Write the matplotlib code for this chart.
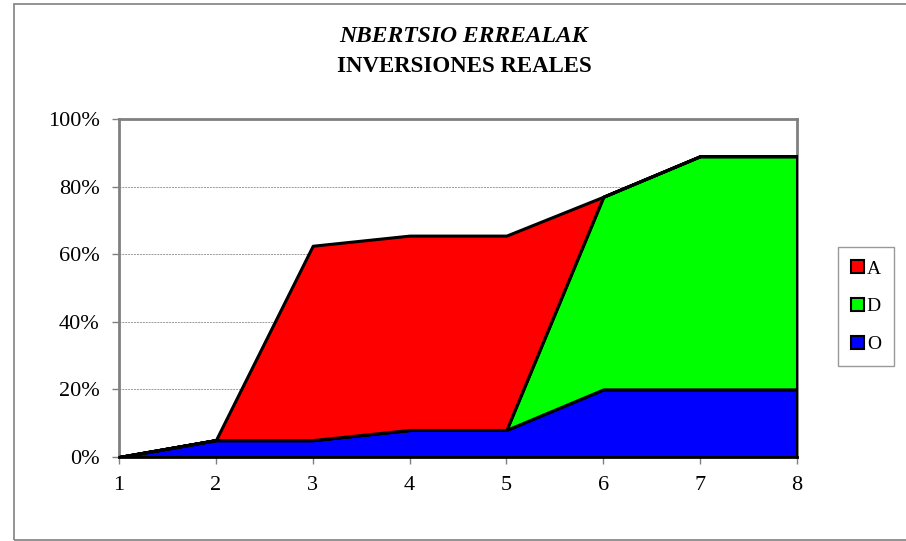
import matplotlib
matplotlib.use("Agg")
import matplotlib.pyplot as plt
from matplotlib.patches import Rectangle, Patch
import numpy as np

x = [1, 2, 3, 4, 5, 6, 7, 8]
O = [0, 5, 5, 8, 8, 20, 20, 20]
D = [0, 0, 0, 0, 0, 57, 69, 69]
A = [0, 0, 57.5, 57.5, 57.5, 0, 0, 0]
series_names = ["O", "D", "A"]
colors = {"O": "#0000FF", "D": "#00FF00", "A": "#FF0000"}
yticks = [0, 20, 40, 60, 80, 100]
title1 = "NBERTSIO ERREALAK"
title2 = "INVERSIONES REALES"

plt.rcParams['font.family'] = ['Liberation Serif', 'DejaVu Serif']

fig = plt.figure(figsize=(9.06, 5.41), dpi=100)
W, H = 906, 541
# outer chart frame
fig.add_artist(Rectangle((13.5 / W, 1 - 539.5 / H), (W + 10) / W, (536 / H),
                         transform=fig.transFigure, fill=False,
                         edgecolor="#808080", linewidth=1.2))

ax = fig.add_axes([119 / W, 1 - 457 / H, (797 - 119) / W, (457 - 119) / H])
ax.stackplot(x, O, D, A, colors=[colors[s] for s in series_names],
             edgecolor="black", linewidth=2.2, zorder=3)

ax.set_xlim(1, 8)
ax.set_ylim(0, 100)
ax.set_xticks(x)
ax.set_yticks(yticks)
ax.set_yticklabels([f"{v}%" for v in yticks])
ax.tick_params(axis="both", labelsize=16, direction="out", length=5,
               color="#808080", width=1)
ax.tick_params(axis="y", pad=9)
ax.tick_params(axis="x", pad=9)
for v in yticks[1:-1]:
    ax.axhline(v, color="#999999", linestyle=(0, (2, 1)), linewidth=0.7, zorder=1)
for side in ["left", "top", "right", "bottom"]:
    ax.spines[side].set_color("#808080")
    ax.spines[side].set_linewidth(2)
ax.spines["bottom"].set_color("black")

fig.text(463 / W, 1 - 37 / H, title1, ha="center", va="center",
         fontsize=17, fontweight="bold", fontstyle="italic")
fig.text(464 / W, 1 - 67 / H, title2, ha="center", va="center",
         fontsize=16.5, fontweight="bold")

handles = [Patch(facecolor=colors[s], edgecolor="black", linewidth=1.5) for s in ["A", "D", "O"]]
leg = fig.legend(handles, ["A", "D", "O"], loc="upper left",
                 bbox_to_anchor=(838 / W, 1 - 247 / H), fontsize=14,
                 frameon=True, fancybox=False, edgecolor="#808080",
                 handlelength=0.65, handleheight=0.65, handletextpad=0.15,
                 labelspacing=1.05, borderpad=0.68, borderaxespad=0)
leg.get_frame().set_linewidth(1)

fig.savefig("out.png", dpi=100)
